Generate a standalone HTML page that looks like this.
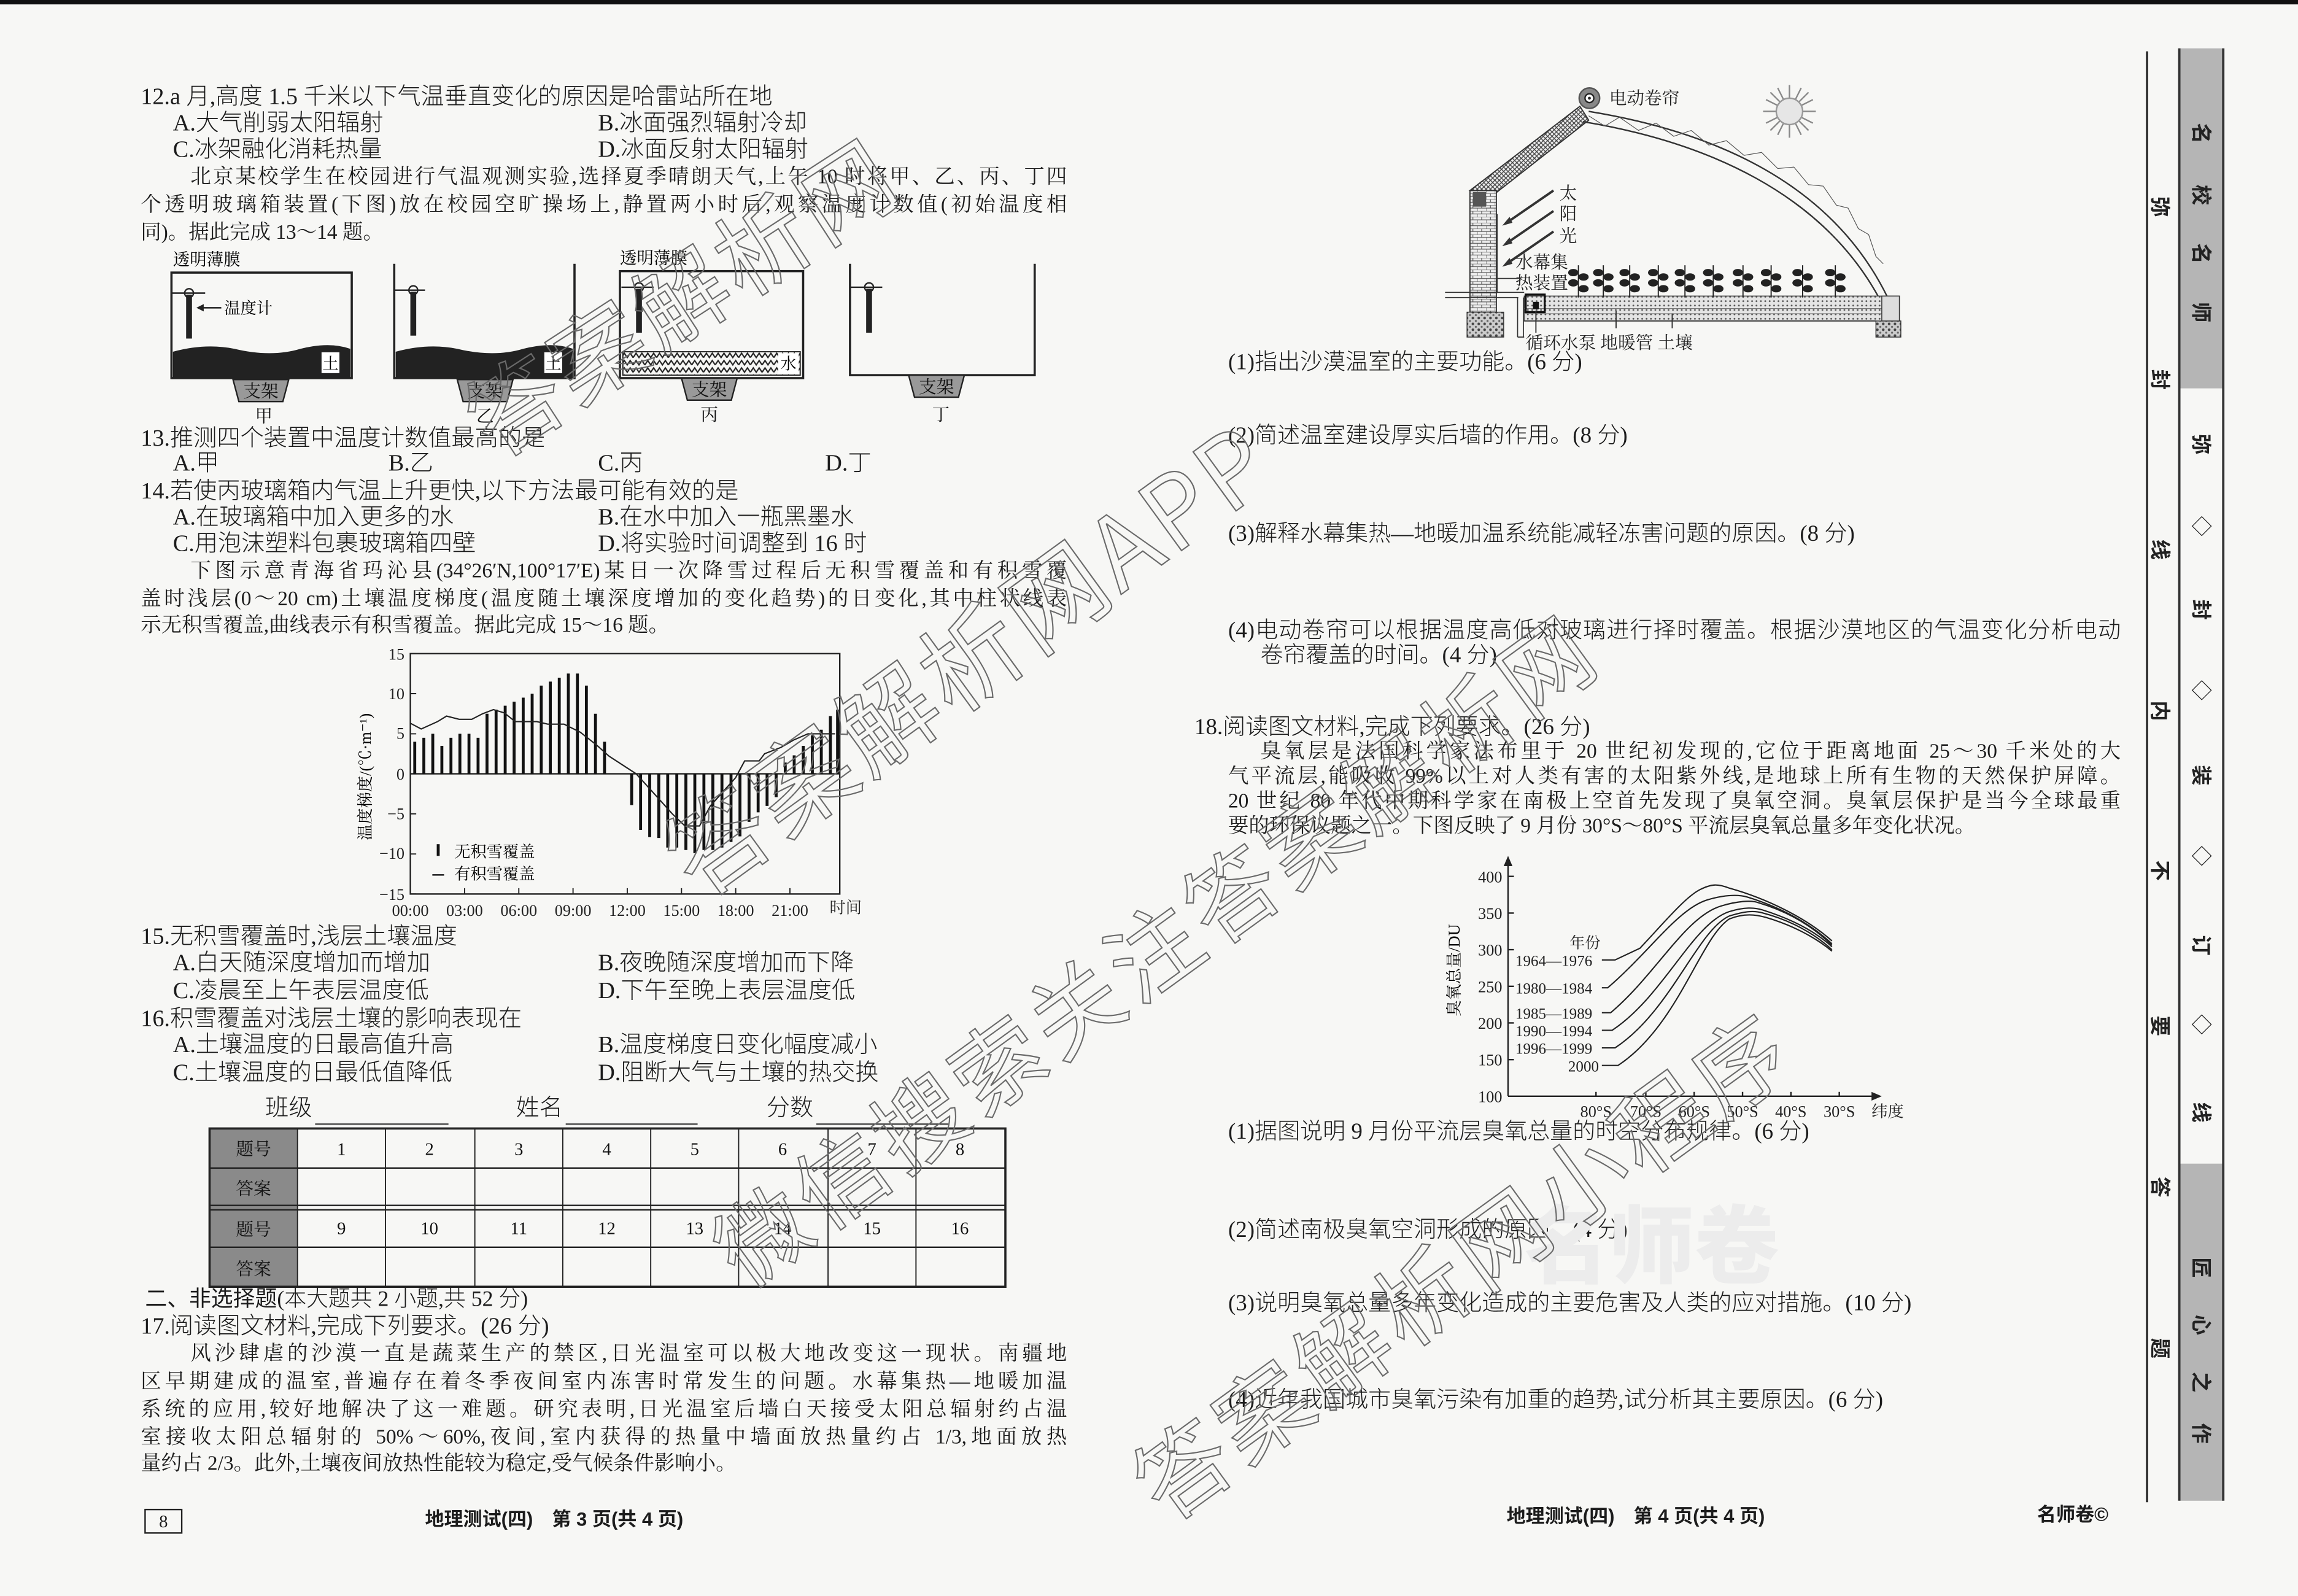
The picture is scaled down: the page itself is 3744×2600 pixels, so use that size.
<!DOCTYPE html>
<html><head><meta charset="utf-8">
<style>
html,body{margin:0;padding:0;background:#f7f7f5;}
body{width:3744px;height:2600px;overflow:hidden;position:relative;}
#p{position:absolute;left:0;top:0;width:1568px;height:1089px;transform:scale(2.38776,2.38751);transform-origin:0 0;}
.t{position:absolute;white-space:nowrap;font-size:14px;line-height:18px;font-family:"Liberation Serif","Noto Serif CJK SC",serif;color:#1c1c1c;}
.q{font-size:16px;font-family:"Liberation Serif","Noto Sans CJK SC",serif;font-weight:300;}
.r{font-size:15.5px;font-family:"Liberation Serif","Noto Sans CJK SC",serif;font-weight:300;}
.j{white-space:normal;text-align:justify;text-align-last:justify;}
.s{font-size:12px;line-height:14px;}
.b{font-weight:bold;font-family:"Liberation Sans","Noto Sans CJK SC",sans-serif;font-size:13px;}
.w{position:absolute;white-space:nowrap;font-family:"Noto Sans CJK SC",sans-serif;color:transparent;-webkit-text-stroke:0.9px #6a6a6a;line-height:1;}
.v{position:absolute;font-family:"Noto Sans CJK SC",sans-serif;font-size:14px;line-height:14px;width:14px;text-align:center;transform:rotate(90deg);color:#222;font-weight:bold;}
</style></head><body>
<div id="p">
<div style="position:absolute;left:0;top:0;width:1568px;height:3px;background:#111"></div>

<svg style="position:absolute;left:0;top:0" width="1568" height="1089" viewBox="0 0 1568 1089" font-family="Liberation Serif, Noto Serif CJK SC, serif">
<defs>
<pattern id="zz" width="8" height="5" patternUnits="userSpaceOnUse"><path d="M0 4 L2 1 L4 4 L6 1 L8 4" fill="none" stroke="#222" stroke-width="0.9"/></pattern>
<pattern id="hx" width="3" height="3" patternUnits="userSpaceOnUse"><rect width="3" height="3" fill="#eee"/><path d="M0 0L3 3M3 0L0 3" stroke="#444" stroke-width="0.6"/></pattern>
<pattern id="br" width="6" height="4" patternUnits="userSpaceOnUse"><rect width="6" height="4" fill="#eee"/><path d="M0 0H6M0 2H6M3 0V2M0 2V4" stroke="#555" stroke-width="0.5"/></pattern>
<pattern id="dt" width="3" height="3" patternUnits="userSpaceOnUse"><rect width="3" height="3" fill="#e4e4e4"/><circle cx="1.5" cy="1.5" r="0.6" fill="#555"/></pattern>
<pattern id="st" width="4" height="4" patternUnits="userSpaceOnUse"><rect width="4" height="4" fill="#ccc"/><circle cx="1" cy="1" r="0.9" fill="#444"/><circle cx="3" cy="3" r="0.7" fill="#666"/></pattern>
</defs>
<g stroke="#222" fill="none" stroke-width="1.5">
<rect x="117" y="186" width="123" height="72"/>
<path d="M269 180V258H392V180"/>
<rect x="423" y="185" width="125" height="73"/>
<path d="M580 180V256H706V180"/>
</g>
<path d="M118 240 Q140 234 160 238 Q185 244 205 238 Q225 233 239 238 V258 H118Z" fill="#222"/>
<path d="M270 240 Q292 234 312 238 Q337 244 357 238 Q377 233 391 238 V258 H270Z" fill="#222"/>
<rect x="219" y="240" width="13" height="15" fill="#fff" stroke="#222" stroke-width="0.8"/><text x="225.5" y="252" font-size="11" text-anchor="middle">土</text>
<rect x="371" y="240" width="13" height="15" fill="#fff" stroke="#222" stroke-width="0.8"/><text x="377.5" y="252" font-size="11" text-anchor="middle">土</text>
<rect x="425" y="240" width="121" height="16" fill="url(#zz)" stroke="#222" stroke-width="0.8"/>
<rect x="531" y="241" width="14" height="14" fill="#fff"/><text x="538" y="252" font-size="11" text-anchor="middle">水</text>
<g fill="#222" stroke="#222">
<path d="M117 200H140M269 198H290M424 196H446M580 196H602" stroke-width="1"/>
<circle cx="129" cy="200" r="3" fill="none"/><rect x="127" y="201" width="4" height="30" stroke="none"/>
<circle cx="282" cy="198" r="3" fill="none"/><rect x="280" y="199" width="4" height="30" stroke="none"/>
<circle cx="436" cy="196" r="3" fill="none"/><rect x="434" y="197" width="4" height="30" stroke="none"/>
<circle cx="593" cy="196" r="3" fill="none"/><rect x="591" y="197" width="4" height="30" stroke="none"/>
<path d="M151 210H136" stroke-width="1"/><path d="M134 210l5 -2.5v5z" stroke="none"/>
</g>
<text x="153" y="214" font-size="11">温度计</text>
<g fill="#999" stroke="#222" stroke-width="1">
<path d="M159 259H197L193 274H163Z"/><path d="M312 259H350L346 274H316Z"/>
<path d="M465 258H503L499 273H469Z"/><path d="M620 256H658L654 271H624Z"/>
</g>
<g font-size="12" text-anchor="middle" fill="#111">
<text x="178" y="271">支架</text><text x="331" y="271">支架</text><text x="484" y="270">支架</text><text x="639" y="268">支架</text>
<text x="180" y="288">甲</text><text x="331" y="288">乙</text><text x="484" y="287">丙</text><text x="642" y="287">丁</text>
</g>
<text x="118" y="181" font-size="11.5">透明薄膜</text><text x="423" y="180" font-size="11.5">透明薄膜</text>

<rect x="280" y="446" width="293" height="164" fill="none" stroke="#222" stroke-width="1"/>
<path d="M280 528H573" stroke="#222" stroke-width="1"/>
<g stroke="#222" stroke-width="0.8">
<path d="M280 446h4M280 473.3h4M280 500.7h4M280 555.3h4M280 582.7h4M280 610h4"/>
<path d="M317 610v-4M354 610v-4M391 610v-4M428 610v-4M465 610v-4M502 610v-4M539 610v-4"/>
</g>
<g font-size="11" text-anchor="end" fill="#222">
<text x="276" y="450">15</text><text x="276" y="477">10</text><text x="276" y="504">5</text><text x="276" y="532">0</text><text x="276" y="559">−5</text><text x="276" y="586">−10</text><text x="276" y="614">−15</text>
</g>
<g font-size="11" text-anchor="middle" fill="#222">
<text x="280" y="625">00:00</text><text x="317" y="625">03:00</text><text x="354" y="625">06:00</text><text x="391" y="625">09:00</text><text x="428" y="625">12:00</text><text x="465" y="625">15:00</text><text x="502" y="625">18:00</text><text x="539" y="625">21:00</text><text x="577" y="623">时间</text>
</g>
<text transform="translate(253,530) rotate(-90)" font-size="11" text-anchor="middle">温度梯度/(℃·m⁻¹)</text>
<path stroke="#111" stroke-width="2" d="M283 528V506.1M289.2 528V503.4M295.3 528V500.7M301.5 528V508.9M307.7 528V503.4M313.8 528V500.7M320 528V500.7M326.2 528V503.4M332.3 528V487M338.5 528V484.2M344.7 528V481.5M350.8 528V478.8M357 528V476M363.1 528V473.3M369.3 528V467.8M375.5 528V465.1M381.6 528V462.4M387.8 528V459.6M394 528V459.6M400.1 528V467.8M406.3 528V487M412.5 528V506.1M431 528V549.3M437.1 528V566.3M443.3 528V571.2M449.5 528V571.8M455.6 528V578.3M461.8 528V578.3M468 528V580M474.1 528V582.2M480.3 528V580M486.4 528V580M492.6 528V578.3M498.8 528V574.5M504.9 528V570.7M511.1 528V560.8M517.3 528V554.3M523.4 528V549.9M529.6 528V543.9M535.8 528V520.3M541.9 528V515.4M548.1 528V508.9M554.3 528V501.7M560.4 528V497.9M566.6 528V488.6M571.5 528V484.2"/>
<polyline fill="none" stroke="#222" stroke-width="0.9" points="280,493.5 287.4,497.4 298.5,492.4 304.7,488.6 313.3,490.8 321.9,490.8 329.3,487 336.7,484.2 344.1,486.4 351.5,492.4 366.3,492.4 373.7,494.1 384.8,494.1 395.9,499.6 407,508.3 415.6,516 434.1,528 446.5,541.7 458.8,555.4 467.4,563.6 477.3,563.6 484.7,549.9 494.5,538.9 501.9,530.7 508.1,519.2 518,519.2 521.7,514.3 532.8,510 541.4,505 551.3,500.7 569.8,500.7"/>
<path d="M299 576v8" stroke="#111" stroke-width="2"/><path d="M295 597h8" stroke="#111" stroke-width="1"/>
<text x="310" y="585" font-size="11">无积雪覆盖</text><text x="310" y="600" font-size="11">有积雪覆盖</text>

<rect x="143" y="770" width="60" height="108" fill="#8a8a8a"/>
<g stroke="#222" fill="none">
<rect x="143" y="770" width="543" height="108" stroke-width="1.5"/>
<path d="M143 797H686M143 822.5H686M143 825.5H686M143 851H686" stroke-width="1"/>
<path d="M203 770V878M263 770V878M324 770V878M384 770V878M444 770V878M504 770V878M565 770V878M625 770V878" stroke-width="0.8"/>
</g>
<g font-size="12" text-anchor="middle" fill="#111">
<text x="173" y="788">题号</text><text x="173" y="815">答案</text><text x="173" y="843">题号</text><text x="173" y="870">答案</text>
<text x="233" y="788">1</text><text x="293" y="788">2</text><text x="354" y="788">3</text><text x="414" y="788">4</text><text x="474" y="788">5</text><text x="534" y="788">6</text><text x="595" y="788">7</text><text x="655" y="788">8</text>
<text x="233" y="842">9</text><text x="293" y="842">10</text><text x="354" y="842">11</text><text x="414" y="842">12</text><text x="474" y="842">13</text><text x="534" y="842">14</text><text x="595" y="842">15</text><text x="655" y="842">16</text>
</g>
<g stroke="#222" stroke-width="0.8"><path d="M215 767H306M386 767H476M557 767H647"/></g>
<rect x="99" y="1030" width="25" height="16" fill="none" stroke="#222" stroke-width="1"/>

<path d="M1003 130L1078 72.5L1084 82L1019 133Z" fill="url(#hx)" stroke="#333" stroke-width="0.8"/>
<path d="M1084 76 C1170 90 1250 125 1288 203" fill="none" stroke="#333" stroke-width="1"/>
<path d="M1080 83 C1165 97 1243 132 1282 203" fill="none" stroke="#333" stroke-width="1"/>
<path d="M1084 79 L1095 86 L1105 80 L1118 89 L1130 84 L1142 93 L1154 89 L1166 99 L1178 96 L1190 106 L1202 104 L1213 115 L1224 114 L1234 126 L1244 127 L1253 140 L1261 142 L1268 156 L1275 160 L1280 175 L1285 180" fill="none" stroke="#555" stroke-width="0.5"/>
<rect x="1003" y="130" width="18" height="83" fill="url(#br)" stroke="#333" stroke-width="0.8"/>
<rect x="1005" y="131" width="9" height="10" fill="#555"/>
<path d="M1021.5 146V200" stroke="#333" stroke-width="0.8"/>
<rect x="1001" y="213" width="25" height="17" fill="url(#st)" stroke="#333" stroke-width="0.6"/>
<rect x="1280" y="219" width="17" height="11" fill="url(#st)" stroke="#333" stroke-width="0.6"/>
<rect x="1040" y="202" width="256" height="17" fill="url(#dt)" stroke="#444" stroke-width="0.6"/>
<path d="M1040 210.5H1296M1040 214H1296" stroke="#777" stroke-width="0.5"/>
<rect x="1284" y="202" width="12" height="17" fill="#ddd" stroke="#333" stroke-width="0.6"/>
<path d="M986 199.5H1040M986 203H1036" stroke="#333" stroke-width="0.7"/>
<path d="M1035.5 203V230M1039.5 203V230M1035.5 230H1040M1040 219H1280" stroke="#333" stroke-width="0.7"/>
<rect x="1041" y="201" width="13" height="12" fill="none" stroke="#111" stroke-width="1.4"/><rect x="1046" y="206" width="4" height="5" fill="#111"/>
<circle cx="1084.5" cy="67" r="7" fill="#888" stroke="#555"/><circle cx="1084.5" cy="67" r="3" fill="#fff" stroke="#222"/><circle cx="1084.5" cy="67" r="1" fill="#222"/>
<g stroke="#888" stroke-width="1"><path d="M1221 58V94M1203 76H1239M1208 63L1234 89M1234 63L1208 89M1213 60L1229 92M1229 60L1213 92M1205 68L1237 84M1237 68L1205 84"/></g>
<circle cx="1221" cy="76" r="9" fill="#e6e6e6" stroke="#999"/>
<g stroke="#333" stroke-width="1.6"><path d="M1060 130L1028 152M1060 144L1028 166M1060 158L1028 180"/></g>
<g fill="#333"><path d="M1025 154l5 -6 2 4z"/><path d="M1025 168l5 -6 2 4z"/><path d="M1025 182l5 -6 2 4z"/></g>
<g font-size="12" fill="#222"><text x="1064" y="136">太</text><text x="1064" y="150">阳</text><text x="1064" y="165">光</text>
<text x="1034" y="183">水幕集</text><text x="1034" y="197">热装置</text>
<text x="1098" y="71">电动卷帘</text>
<text x="1041" y="238">循环水泵 地暖管  土壤</text></g>
<path d="M1021 190H1038" stroke="#333" stroke-width="0.7"/>
<g stroke="#333" stroke-width="0.8"><path d="M1048 227V212M1102.7 224V212M1141 224V214"/></g>
<g fill="#222" stroke="#222">
<g transform="translate(1077,0)"><path d="M0 181V203" stroke-width="0.8"/><ellipse cx="-3.5" cy="186" rx="3" ry="2"/><ellipse cx="3.5" cy="189" rx="3" ry="2"/><ellipse cx="-3.5" cy="193" rx="3" ry="2"/><ellipse cx="3.5" cy="197" rx="3" ry="2"/></g>
<g transform="translate(1094,0)"><path d="M0 181V203" stroke-width="0.8"/><ellipse cx="-3.5" cy="186" rx="3" ry="2"/><ellipse cx="3.5" cy="189" rx="3" ry="2"/><ellipse cx="-3.5" cy="193" rx="3" ry="2"/><ellipse cx="3.5" cy="197" rx="3" ry="2"/></g>
<g transform="translate(1112,0)"><path d="M0 181V203" stroke-width="0.8"/><ellipse cx="-3.5" cy="186" rx="3" ry="2"/><ellipse cx="3.5" cy="189" rx="3" ry="2"/><ellipse cx="-3.5" cy="193" rx="3" ry="2"/><ellipse cx="3.5" cy="197" rx="3" ry="2"/></g>
<g transform="translate(1131.5,0)"><path d="M0 181V203" stroke-width="0.8"/><ellipse cx="-3.5" cy="186" rx="3" ry="2"/><ellipse cx="3.5" cy="189" rx="3" ry="2"/><ellipse cx="-3.5" cy="193" rx="3" ry="2"/><ellipse cx="3.5" cy="197" rx="3" ry="2"/></g>
<g transform="translate(1149.7,0)"><path d="M0 181V203" stroke-width="0.8"/><ellipse cx="-3.5" cy="186" rx="3" ry="2"/><ellipse cx="3.5" cy="189" rx="3" ry="2"/><ellipse cx="-3.5" cy="193" rx="3" ry="2"/><ellipse cx="3.5" cy="197" rx="3" ry="2"/></g>
<g transform="translate(1169,0)"><path d="M0 181V203" stroke-width="0.8"/><ellipse cx="-3.5" cy="186" rx="3" ry="2"/><ellipse cx="3.5" cy="189" rx="3" ry="2"/><ellipse cx="-3.5" cy="193" rx="3" ry="2"/><ellipse cx="3.5" cy="197" rx="3" ry="2"/></g>
<g transform="translate(1189.3,0)"><path d="M0 181V203" stroke-width="0.8"/><ellipse cx="-3.5" cy="186" rx="3" ry="2"/><ellipse cx="3.5" cy="189" rx="3" ry="2"/><ellipse cx="-3.5" cy="193" rx="3" ry="2"/><ellipse cx="3.5" cy="197" rx="3" ry="2"/></g>
<g transform="translate(1208.5,0)"><path d="M0 181V203" stroke-width="0.8"/><ellipse cx="-3.5" cy="186" rx="3" ry="2"/><ellipse cx="3.5" cy="189" rx="3" ry="2"/><ellipse cx="-3.5" cy="193" rx="3" ry="2"/><ellipse cx="3.5" cy="197" rx="3" ry="2"/></g>
<g transform="translate(1230,0)"><path d="M0 181V203" stroke-width="0.8"/><ellipse cx="-3.5" cy="186" rx="3" ry="2"/><ellipse cx="3.5" cy="189" rx="3" ry="2"/><ellipse cx="-3.5" cy="193" rx="3" ry="2"/><ellipse cx="3.5" cy="197" rx="3" ry="2"/></g>
<g transform="translate(1252.3,0)"><path d="M0 181V203" stroke-width="0.8"/><ellipse cx="-3.5" cy="186" rx="3" ry="2"/><ellipse cx="3.5" cy="189" rx="3" ry="2"/><ellipse cx="-3.5" cy="193" rx="3" ry="2"/><ellipse cx="3.5" cy="197" rx="3" ry="2"/></g>
</g>

<g stroke="#222" stroke-width="1" fill="none">
<path d="M1029 748V588M1029 748H1280"/>
<path d="M1029 598h4M1029 623h4M1029 648h4M1029 673h4M1029 698h4M1029 723h4"/>
<path d="M1089 748v-3M1123 748v-3M1156 748v-3M1189 748v-3M1222 748v-3M1255 748v-3"/>
</g>
<path d="M1029 584l-3 7h6z M1284 748l-7 -3v6z" fill="#222"/>
<g font-size="11" text-anchor="end" fill="#222">
<text x="1025" y="602">400</text><text x="1025" y="627">350</text><text x="1025" y="652">300</text><text x="1025" y="677">250</text><text x="1025" y="702">200</text><text x="1025" y="727">150</text><text x="1025" y="752">100</text>
</g>
<g font-size="11" text-anchor="middle" fill="#222">
<text x="1089" y="762">80°S</text><text x="1123" y="762">70°S</text><text x="1156" y="762">60°S</text><text x="1189" y="762">50°S</text><text x="1222" y="762">40°S</text><text x="1255" y="762">30°S</text><text x="1288" y="762">纬度</text>
</g>
<text transform="translate(996,662) rotate(-90)" font-size="11" text-anchor="middle">臭氧总量/DU</text>
<g font-size="10.5" fill="#222">
<text x="1071" y="647">年份</text>
<text x="1034" y="659">1964—1976</text><text x="1034" y="678">1980—1984</text><text x="1034" y="695">1985—1989</text><text x="1034" y="707">1990—1994</text><text x="1034" y="719">1996—1999</text><text x="1070" y="731">2000</text>
</g>
<g fill="none" stroke="#222" stroke-width="0.9">
<path d="M1093 655H1102L1119 647C1135 630 1150 612 1160 607 C1168 603 1172 603 1180 606 C1205 613 1232 626 1250 642"/>
<path d="M1093 674H1097C1125 650 1145 620 1165 614 C1175 611 1185 610 1192 612 C1215 619 1235 630 1250 644"/>
<path d="M1093 691H1099C1130 665 1150 625 1175 618 C1185 615 1195 614 1200 616 C1220 622 1237 632 1250 645"/>
<path d="M1093 703H1100C1135 680 1155 630 1180 622 C1190 619 1197 619 1203 621 C1222 627 1238 635 1250 646"/>
<path d="M1093 715H1102C1140 690 1158 635 1180 625 C1190 622 1196 621 1203 623 C1222 628 1238 637 1250 648"/>
<path d="M1093 727H1104C1145 700 1160 640 1180 627 C1190 623 1198 624 1205 626 C1222 631 1238 639 1250 649"/>
</g>

<path d="M1465 35V1025" stroke="#333" stroke-width="1.6"/>
<rect x="1487" y="33" width="30" height="232" fill="#b5b5b5"/>
<rect x="1487" y="794" width="30" height="230" fill="#b5b5b5"/>
<path d="M1487 33V1024M1517 33V1024" stroke="#333" stroke-width="1.6"/>
</svg>

<div class="t q" style="left:96px;top:58px">12.a 月,高度 1.5 千米以下气温垂直变化的原因是哈雷站所在地</div>
<div class="t q" style="left:118px;top:76px">A.大气削弱太阳辐射</div><div class="t q" style="left:408px;top:76px">B.冰面强烈辐射冷却</div>
<div class="t q" style="left:118px;top:94px">C.冰架融化消耗热量</div><div class="t q" style="left:408px;top:94px">D.冰面反射太阳辐射</div>
<div class="t j" style="left:130px;top:113px;width:598px">北京某校学生在校园进行气温观测实验,选择夏季晴朗天气,上午 10 时将甲、乙、丙、丁四</div>
<div class="t j" style="left:96px;top:132px;width:632px">个透明玻璃箱装置(下图)放在校园空旷操场上,静置两小时后,观察温度计数值(初始温度相</div>
<div class="t" style="left:96px;top:151px">同)。据此完成 13～14 题。</div>
<div class="t q" style="left:96px;top:291px">13.推测四个装置中温度计数值最高的是</div>
<div class="t q" style="left:118px;top:308px">A.甲</div><div class="t q" style="left:265px;top:308px">B.乙</div><div class="t q" style="left:408px;top:308px">C.丙</div><div class="t q" style="left:563px;top:308px">D.丁</div>
<div class="t q" style="left:96px;top:327px">14.若使丙玻璃箱内气温上升更快,以下方法最可能有效的是</div>
<div class="t q" style="left:118px;top:345px">A.在玻璃箱中加入更多的水</div><div class="t q" style="left:408px;top:345px">B.在水中加入一瓶黑墨水</div>
<div class="t q" style="left:118px;top:363px">C.用泡沫塑料包裹玻璃箱四壁</div><div class="t q" style="left:408px;top:363px">D.将实验时间调整到 16 时</div>
<div class="t j" style="left:130px;top:382px;width:598px">下图示意青海省玛沁县(34°26′N,100°17′E)某日一次降雪过程后无积雪覆盖和有积雪覆</div>
<div class="t j" style="left:96px;top:401px;width:632px">盖时浅层(0～20 cm)土壤温度梯度(温度随土壤深度增加的变化趋势)的日变化,其中柱状线表</div>
<div class="t" style="left:96px;top:419px">示无积雪覆盖,曲线表示有积雪覆盖。据此完成 15～16 题。</div>
<div class="t q" style="left:96px;top:631px">15.无积雪覆盖时,浅层土壤温度</div>
<div class="t q" style="left:118px;top:649px">A.白天随深度增加而增加</div><div class="t q" style="left:408px;top:649px">B.夜晚随深度增加而下降</div>
<div class="t q" style="left:118px;top:668px">C.凌晨至上午表层温度低</div><div class="t q" style="left:408px;top:668px">D.下午至晚上表层温度低</div>
<div class="t q" style="left:96px;top:687px">16.积雪覆盖对浅层土壤的影响表现在</div>
<div class="t q" style="left:118px;top:705px">A.土壤温度的日最高值升高</div><div class="t q" style="left:408px;top:705px">B.温度梯度日变化幅度减小</div>
<div class="t q" style="left:118px;top:724px">C.土壤温度的日最低值降低</div><div class="t q" style="left:408px;top:724px">D.阻断大气与土壤的热交换</div>
<div class="t q" style="left:181px;top:748px">班级</div><div class="t q" style="left:352px;top:748px">姓名</div><div class="t q" style="left:523px;top:748px">分数</div>
<div class="t q" style="left:99px;top:878px;font-size:15px"><b style="font-family:'Liberation Sans','Noto Sans CJK SC',sans-serif">二、非选择题</b>(本大题共 2 小题,共 52 分)</div>
<div class="t q" style="left:96px;top:897px">17.阅读图文材料,完成下列要求。(26 分)</div>
<div class="t j" style="left:130px;top:916px;width:598px">风沙肆虐的沙漠一直是蔬菜生产的禁区,日光温室可以极大地改变这一现状。南疆地</div>
<div class="t j" style="left:96px;top:935px;width:632px">区早期建成的温室,普遍存在着冬季夜间室内冻害时常发生的问题。水幕集热—地暖加温</div>
<div class="t j" style="left:96px;top:954px;width:632px">系统的应用,较好地解决了这一难题。研究表明,日光温室后墙白天接受太阳总辐射约占温</div>
<div class="t j" style="left:96px;top:973px;width:632px">室接收太阳总辐射的 50%～60%,夜间,室内获得的热量中墙面放热量约占 1/3,地面放热</div>
<div class="t" style="left:96px;top:991px">量约占 2/3。此外,土壤夜间放热性能较为稳定,受气候条件影响小。</div>
<div class="t s" style="left:99px;top:1031px;width:25px;text-align:center">8</div>
<div class="t b" style="left:290px;top:1028px">地理测试(四)　第 3 页(共 4 页)</div>

<div class="t r" style="left:838px;top:239px">(1)指出沙漠温室的主要功能。(6 分)</div>
<div class="t r" style="left:838px;top:289px">(2)简述温室建设厚实后墙的作用。(8 分)</div>
<div class="t r" style="left:838px;top:356px">(3)解释水幕集热—地暖加温系统能减轻冻害问题的原因。(8 分)</div>
<div class="t r j" style="left:838px;top:422px;width:609px">(4)电动卷帘可以根据温度高低对玻璃进行择时覆盖。根据沙漠地区的气温变化分析电动</div>
<div class="t r" style="left:860px;top:439px">卷帘覆盖的时间。(4 分)</div>
<div class="t r" style="left:815px;top:488px">18.阅读图文材料,完成下列要求。(26 分)</div>
<div class="t j" style="left:860px;top:505px;width:587px">臭氧层是法国科学家法布里于 20 世纪初发现的,它位于距离地面 25～30 千米处的大</div>
<div class="t j" style="left:838px;top:522px;width:609px">气平流层,能吸收 99%以上对人类有害的太阳紫外线,是地球上所有生物的天然保护屏障。</div>
<div class="t j" style="left:838px;top:539px;width:609px">20 世纪 80 年代中期科学家在南极上空首先发现了臭氧空洞。臭氧层保护是当今全球最重</div>
<div class="t" style="left:838px;top:556px">要的环保议题之一。下图反映了 9 月份 30°S～80°S 平流层臭氧总量多年变化状况。</div>
<div class="t r" style="left:838px;top:764px">(1)据图说明 9 月份平流层臭氧总量的时空分布规律。(6 分)</div>
<div class="t r" style="left:838px;top:831px">(2)简述南极臭氧空洞形成的原因。(4 分)</div>
<div class="t r" style="left:838px;top:881px">(3)说明臭氧总量多年变化造成的主要危害及人类的应对措施。(10 分)</div>
<div class="t r" style="left:838px;top:947px">(4)近年我国城市臭氧污染有加重的趋势,试分析其主要原因。(6 分)</div>
<div class="t b" style="left:1028px;top:1026px">地理测试(四)　第 4 页(共 4 页)</div>
<div class="t b" style="left:1390px;top:1025px">名师卷©</div>
<div style="position:absolute;left:1040px;top:815px;font-family:'Noto Sans CJK SC',sans-serif;font-weight:900;font-size:58px;line-height:62px;color:#ececec;white-space:nowrap">名师卷</div>

<div class="v" style="left:1467px;top:134px">弥</div><div class="v" style="left:1467px;top:252px">封</div><div class="v" style="left:1467px;top:368px">线</div><div class="v" style="left:1467px;top:478px">内</div>
<div class="v" style="left:1467px;top:587px">不</div><div class="v" style="left:1467px;top:693px">要</div><div class="v" style="left:1467px;top:803px">答</div><div class="v" style="left:1467px;top:913px">题</div>
<div class="v" style="left:1495px;top:84px">名</div><div class="v" style="left:1495px;top:126px">校</div><div class="v" style="left:1495px;top:166px">名</div><div class="v" style="left:1495px;top:206px">师</div>
<div class="v" style="left:1495px;top:296px">弥</div><div class="v" style="left:1495px;top:352px;font-weight:normal">◇</div><div class="v" style="left:1495px;top:409px">封</div><div class="v" style="left:1495px;top:464px;font-weight:normal">◇</div>
<div class="v" style="left:1495px;top:522px">装</div><div class="v" style="left:1495px;top:577px;font-weight:normal">◇</div><div class="v" style="left:1495px;top:638px">订</div><div class="v" style="left:1495px;top:692px;font-weight:normal">◇</div><div class="v" style="left:1495px;top:752px">线</div>
<div class="v" style="left:1495px;top:858px">匠</div><div class="v" style="left:1495px;top:897px">心</div><div class="v" style="left:1495px;top:936px">之</div><div class="v" style="left:1495px;top:971px">作</div>

<div class="w" style="left:318px;top:242px;font-size:64px;letter-spacing:3px;transform-origin:32px 32px;transform:rotate(-33deg)">答案解析网</div>
<div class="w" style="left:454px;top:537px;font-size:68px;letter-spacing:3px;transform-origin:34px 34px;transform:rotate(-36deg)">答案解析网APP</div>
<div class="w" style="left:487px;top:809px;font-size:62px;letter-spacing:4px;transform-origin:31px 31px;transform:rotate(-36deg)">微信搜索关注答案解析网</div>
<div class="w" style="left:774px;top:969px;font-size:63px;letter-spacing:4px;transform-origin:31px 31px;transform:rotate(-36deg)">答案解析网小程序</div>
</div>
</body></html>
